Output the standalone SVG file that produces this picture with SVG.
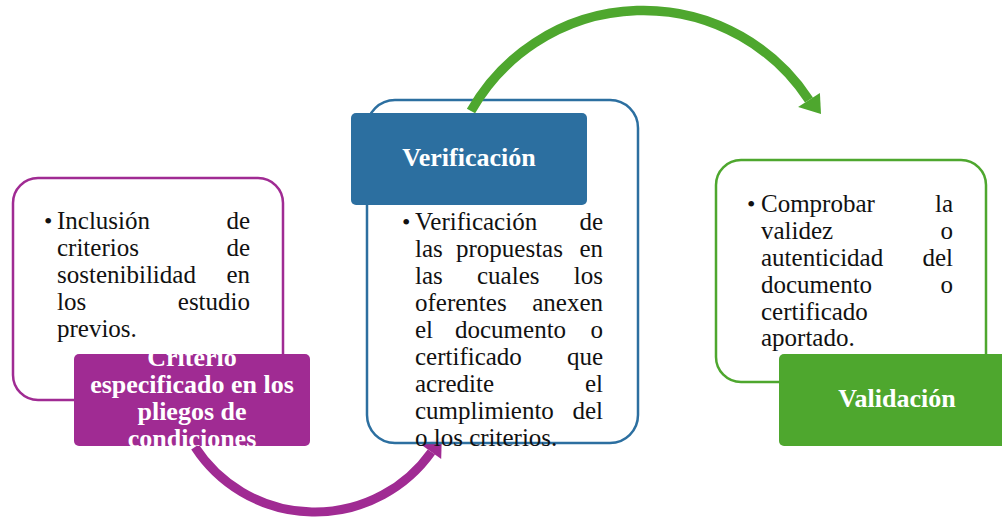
<svg xmlns="http://www.w3.org/2000/svg" width="1002" height="519" viewBox="0 0 1002 519">
  <style>
    .body { font-family: "Liberation Serif", "Times New Roman", serif; font-size: 25px; fill: #111; }
    .lbl { font-family: "Liberation Serif", "Times New Roman", serif; font-size: 26px; font-weight: bold; fill: #ffffff; text-anchor: middle; }
    .end { text-anchor: end; }
    .bul { font-family: "Liberation Serif", serif; font-size: 24px; fill: #111; }
  </style>
  <defs>
    <clipPath id="clipP"><rect x="74" y="354" width="236" height="92" rx="5"/></clipPath>
  </defs>
  <rect width="1002" height="519" fill="#ffffff"/>

  <!-- connectors (drawn beneath boxes where needed) -->
  <g id="connectors">
    <g id="arc-purple">
      <path d="M195,447 A143,143 0 0 0 431.4,452" fill="none" stroke="#a02b93" stroke-width="9"/>
      <polygon points="441.2,459 421.6,445 441.8,437.3" fill="#a02b93"/>
    </g>
  </g>

  <!-- Node 1: Criterio -->
  <g id="node-criterio">
    <rect x="13" y="178" width="270" height="222" rx="25" fill="#ffffff" stroke="#a02b93" stroke-width="2.5"/>
    <text class="bul" x="44" y="229">•</text>
    <text class="body" x="57" y="229">Inclusión</text><text class="body end" x="250" y="229">de</text>
    <text class="body" x="57" y="256">criterios</text><text class="body end" x="250" y="256">de</text>
    <text class="body" x="57" y="283">sostenibilidad</text><text class="body end" x="250" y="283">en</text>
    <text class="body" x="57" y="310">los</text><text class="body end" x="250" y="310">estudio</text>
    <text class="body" x="57" y="337">previos.</text>
    <rect x="74" y="354" width="236" height="92" rx="5" fill="#a02b93"/>
    <g clip-path="url(#clipP)">
      <text class="lbl" x="192" y="366">Criterio</text>
      <text class="lbl" x="192" y="393">especificado en los</text>
      <text class="lbl" x="192" y="420">pliegos de</text>
      <text class="lbl" x="192" y="447">condiciones</text>
    </g>
  </g>

  <!-- Node 2: Verificación -->
  <g id="node-verificacion">
    <rect x="367" y="100" width="271" height="343" rx="28" fill="#ffffff" fill-opacity="0.9" stroke="#2c6fa0" stroke-width="2.5"/>
    <text class="bul" x="402" y="230">•</text>
    <text class="body" x="415" y="230">Verificación</text><text class="body end" x="603" y="230">de</text>
    <text class="body" x="415" y="257">las</text><text class="body" x="456" y="257">propuestas</text><text class="body end" x="603" y="257">en</text>
    <text class="body" x="415" y="284">las</text><text class="body" x="477" y="284">cuales</text><text class="body end" x="603" y="284">los</text>
    <text class="body" x="415" y="311">oferentes</text><text class="body end" x="603" y="311">anexen</text>
    <text class="body" x="415" y="338">el</text><text class="body" x="455" y="338">documento</text><text class="body end" x="603" y="338">o</text>
    <text class="body" x="415" y="365">certificado</text><text class="body end" x="603" y="365">que</text>
    <text class="body" x="415" y="392">acredite</text><text class="body end" x="603" y="392">el</text>
    <text class="body" x="415" y="419">cumplimiento</text><text class="body end" x="603" y="419">del</text>
    <text class="body" x="415" y="446">o los criterios.</text>
  </g>

  <g id="connectors-top">
    <g id="arc-green">
      <path d="M471,111 A198,198 0 0 1 809,100" fill="none" stroke="#4ea72e" stroke-width="9.5"/>
      <polygon points="819.9,92.9 798.1,107.1 821,114" fill="#4ea72e"/>
    </g>
  </g>

  <g id="label-verificacion">
    <rect x="351" y="113" width="236" height="92" rx="5" fill="#2c6fa0"/>
    <text class="lbl" x="469" y="166">Verificación</text>
  </g>

  <!-- Node 3: Validación -->
  <g id="node-validacion">
    <rect x="716" y="160" width="270" height="222" rx="25" fill="#ffffff" stroke="#4ea72e" stroke-width="2.5"/>
    <text class="bul" x="747" y="212">•</text>
    <text class="body" x="761" y="212">Comprobar</text><text class="body end" x="953" y="212">la</text>
    <text class="body" x="761" y="239">validez</text><text class="body end" x="953" y="239">o</text>
    <text class="body" x="761" y="266">autenticidad</text><text class="body end" x="953" y="266">del</text>
    <text class="body" x="761" y="293">documento</text><text class="body end" x="953" y="293">o</text>
    <text class="body" x="761" y="320">certificado</text>
    <text class="body" x="761" y="346">aportado.</text>
    <rect x="779" y="354" width="236" height="92" rx="5" fill="#4ea72e"/>
    <text class="lbl" x="897" y="407">Validación</text>
  </g>
</svg>
